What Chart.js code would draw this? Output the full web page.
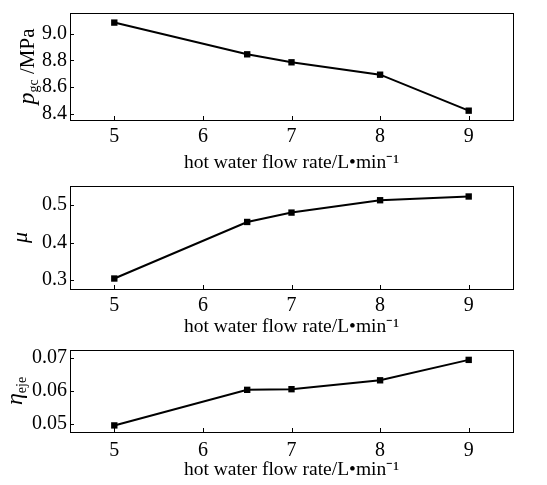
<!DOCTYPE html>
<html>
<head>
<meta charset="utf-8">
<script src="https://cdn.jsdelivr.net/npm/chart.js@4/dist/chart.umd.min.js"></script>
<style>
    body { margin: 0; background: #fff; }
    .panel { position: absolute; left: 0; width: 547px; }
</style>
</head>
<body>
<div class="panel" style="top:0px;height:173px"><canvas id="pgc_canvas"></canvas></div>
<div class="panel" style="top:173px;height:164px"><canvas id="mu_canvas"></canvas></div>
<div class="panel" style="top:337px;height:143px"><canvas id="eta_canvas"></canvas></div>
<script>
// hot water flow rate, L/min
const flowRate = [5, 6.5, 7, 8, 9]
const xTicks = [5, 6, 7, 8, 9]

// gas cooler pressure, MPa
const pgc = [9.084, 8.846, 8.786, 8.693, 8.423]
const pgcTicks = [8.4, 8.6, 8.8, 9.0]

// entrainment ratio
const mu = [0.304, 0.455, 0.480, 0.513, 0.523]
const muTicks = [0.3, 0.4, 0.5]

// ejector efficiency
const etaEje = [0.0496, 0.0604, 0.0606, 0.0633, 0.0695]
const etaTicks = [0.05, 0.06, 0.07]

const serif = "'Liberation Serif', 'Times New Roman', serif"

// frame box, inward ticks and the rotated y title with subscript
const framePlugin = {
    id: 'frame',
    afterDraw(chart, args, opts) {
        const ctx = chart.ctx
        const a = chart.chartArea
        const xs = chart.scales.x
        const ys = chart.scales.y
        ctx.save()
        ctx.strokeStyle = '#000'
        ctx.lineWidth = 1
        ctx.strokeRect(Math.round(a.left) + 0.5, Math.round(a.top) + 0.5,
            Math.round(a.right - a.left), Math.round(a.bottom - a.top))
        ctx.beginPath()
        xs.ticks.forEach(t => {
            let px = Math.round(xs.getPixelForValue(t.value)) + 0.5
            ctx.moveTo(px, a.bottom)
            ctx.lineTo(px, a.bottom - 4)
        })
        ys.ticks.forEach(t => {
            let py = Math.round(ys.getPixelForValue(t.value)) + 0.5
            ctx.moveTo(a.left, py)
            ctx.lineTo(a.left + 4, py)
        })
        ctx.stroke()

        // y title, baseline at opts.x
        const parts = opts.parts
        ctx.translate(opts.x, (a.top + a.bottom) / 2)
        ctx.rotate(-Math.PI / 2)
        ctx.fillStyle = '#000'
        ctx.textBaseline = 'alphabetic'
        let total = 0
        parts.forEach(p => {
            ctx.font = p.font
            total += ctx.measureText(p.text).width
        })
        let cx = -total / 2
        parts.forEach(p => {
            ctx.font = p.font
            ctx.fillText(p.text, cx, p.dy || 0)
            cx += ctx.measureText(p.text).width
        })
        ctx.restore()
    }
}

function makeChart(id, values, yTicks, yMin, yMax, layout, titleX, titleParts, decimals) {
    const points = flowRate.map((x, i) => ({ x: x, y: values[i] }))
    return new Chart(document.getElementById(id), {
        type: 'line',
        data: {
            datasets: [{
                data: points,
                borderColor: '#000',
                backgroundColor: '#000',
                borderWidth: 2,
                pointStyle: 'rect',
                pointRadius: 4.5,
                pointBorderWidth: 0,
                tension: 0
            }]
        },
        options: {
            responsive: true,
            maintainAspectRatio: false,
            animation: false,
            events: [],
            layout: {
                padding: { left: 0, right: 34, top: layout.top, bottom: 0 }
            },
            plugins: {
                legend: { display: false },
                tooltip: { enabled: false },
                frame: { x: titleX, parts: titleParts }
            },
            scales: {
                x: {
                    type: 'linear',
                    min: 4.5,
                    max: 9.5,
                    afterBuildTicks: s => { s.ticks = xTicks.map(v => ({ value: v })) },
                    afterFit: s => { s.height = layout.xh },
                    grid: { display: false, drawTicks: false },
                    border: { display: false },
                    ticks: {
                        color: '#000',
                        padding: layout.tickPad,
                        font: { family: serif, size: 20, lineHeight: 1 },
                        callback: v => String(v)
                    },
                    title: {
                        display: true,
                        text: 'hot water flow rate/L\u2022min\u207B\u00B9',
                        color: '#000',
                        font: { family: serif, size: 19.5, lineHeight: 1 },
                        padding: { top: 0, bottom: 0 }
                    }
                },
                y: {
                    min: yMin,
                    max: yMax,
                    afterBuildTicks: s => { s.ticks = yTicks.map(v => ({ value: v })) },
                    afterFit: s => { s.width = 70 },
                    grid: { display: false, drawTicks: false },
                    border: { display: false },
                    ticks: {
                        color: '#000',
                        padding: 3,
                        font: { family: serif, size: 20, lineHeight: 1 },
                        callback: v => v.toFixed(decimals)
                    }
                }
            }
        },
        plugins: [framePlugin]
    })
}

makeChart('pgc_canvas', pgc, pgcTicks, 8.353, 9.156,
    { top: 5, xh: 53, tickPad: 7 }, 34,
    [
        { text: 'p', font: 'italic 24px ' + serif },
        { text: 'gc', font: '14px ' + serif, dy: 4 },
        { text: ' /MPa', font: '21px ' + serif }
    ], 1)

makeChart('mu_canvas', mu, muTicks, 0.276, 0.551,
    { top: 10, xh: 48, tickPad: 7 }, 27,
    [
        { text: '\u03BC', font: 'italic 22px ' + serif }
    ], 1)

makeChart('eta_canvas', etaEje, etaTicks, 0.0476, 0.0725,
    { top: 11, xh: 48, tickPad: 9 }, 22,
    [
        { text: '\u03B7', font: 'italic 24px ' + serif },
        { text: 'eje', font: '14px ' + serif, dy: 4 }
    ], 2)
</script>
</body>
</html>
